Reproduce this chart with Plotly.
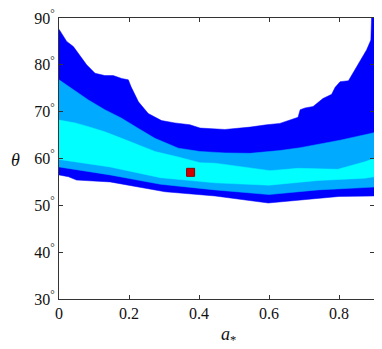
import plotly.graph_objects as go

# ---- data ----
x_dark_top = [0, 0.022, 0.041, 0.07, 0.079, 0.103, 0.131, 0.155, 0.179, 0.198, 0.206, 0.227,
              0.255, 0.293, 0.331, 0.374, 0.403, 0.474, 0.546, 0.593, 0.631, 0.683, 0.689,
              0.703, 0.726, 0.754, 0.779, 0.789, 0.803, 0.827, 0.85, 0.879, 0.891, 0.893, 0.9]
theta_dark_top = [87.6, 85.0, 83.9, 81.0, 80.0, 78.2, 77.7, 77.7, 77.1, 76.8, 75.3, 72.1,
                  69.6, 68.1, 67.6, 67.2, 66.5, 66.2, 66.7, 67.2, 67.5, 68.8, 70.4,
                  70.8, 71.1, 72.8, 73.7, 75.2, 76.4, 76.6, 79.6, 83.2, 85.3, 90.0, 90.0]
x_dark_bot = [0, 0.027, 0.05, 0.146, 0.303, 0.446, 0.598, 0.74, 0.8, 0.9]
theta_dark_bot = [56.5, 56.1, 55.4, 55.0, 52.9, 52.0, 50.5, 51.5, 51.9, 52.0]

x_mid_top = [0, 0.036, 0.084, 0.131, 0.179, 0.227, 0.274, 0.341, 0.403, 0.474, 0.546,
             0.631, 0.689, 0.803, 0.9]
theta_mid_top = [76.8, 75.0, 72.5, 70.4, 68.6, 66.4, 64.3, 62.2, 61.5, 61.2, 61.1,
                 61.7, 62.3, 63.9, 65.5]
x_mid_bot = [0, 0.146, 0.29, 0.446, 0.6, 0.74, 0.9]
theta_mid_bot = [58.2, 56.5, 54.5, 53.3, 52.3, 53.3, 53.9]

x_cyan_top = [0, 0.046, 0.084, 0.131, 0.179, 0.227, 0.274, 0.341, 0.403, 0.446, 0.546,
              0.603, 0.683, 0.797, 0.874, 0.9]
theta_cyan_top = [68.2, 67.6, 66.8, 65.7, 64.3, 62.9, 61.5, 60.3, 59.1, 59.0, 57.9,
                  57.4, 57.9, 57.7, 59.3, 60.0]
x_cyan_bot = [0, 0.146, 0.29, 0.446, 0.6, 0.74, 0.874, 0.9]
theta_cyan_bot = [59.8, 58.2, 55.9, 54.8, 54.3, 55.3, 55.8, 56.1]

best_a = [0.376]
best_theta = [57.05]

x_ticks = [0, 0.2, 0.4, 0.6, 0.8]
x_ticklabels = ["0", "0.2", "0.4", "0.6", "0.8"]
y_ticks = [30, 40, 50, 60, 70, 80, 90]
y_ticklabels = [f"{v}<sup>°</sup>" for v in y_ticks]

band_colors = ["#0000ff", "#00aaff", "#00ffff"]

fig = go.Figure()

bands = [
    (x_dark_top, theta_dark_top, x_dark_bot, theta_dark_bot),
    (x_mid_top, theta_mid_top, x_mid_bot, theta_mid_bot),
    (x_cyan_top, theta_cyan_top, x_cyan_bot, theta_cyan_bot),
]
for (xt, yt, xb, yb), col in zip(bands, band_colors):
    xs = list(xt) + list(reversed(xb))
    ys = list(yt) + list(reversed(yb))
    fig.add_trace(go.Scatter(x=xs, y=ys, mode="lines", fill="toself",
                             fillcolor=col, line=dict(color=col, width=0.5),
                             hoverinfo="skip", showlegend=False))

fig.add_trace(go.Scatter(x=best_a, y=best_theta, mode="markers",
                         marker=dict(symbol="square", size=8, color="#d40000",
                                     line=dict(color="#8b0000", width=1)),
                         hoverinfo="skip", showlegend=False))

axis_common = dict(showgrid=False, zeroline=False, showline=True, linecolor="#333333",
                   linewidth=1, mirror="ticks", ticks="inside", ticklen=4,
                   tickcolor="#333333", automargin=False, ticklabeloverflow="allow",
                   tickfont=dict(family="Liberation Serif", size=16, color="#111111"))

# page body has an 8px margin, so the figure is 8px smaller than the window
W, H = 374, 341
ML, MR, MT, MB = 51, 8, 10, 50
pw = W - ML - MR
ph = H - MT - MB

fig.update_layout(
    template="none",
    width=W, height=H,
    margin=dict(l=ML, r=MR, t=MT, b=MB),
    paper_bgcolor="white", plot_bgcolor="white",
    xaxis=dict(range=[0, 0.9], tickvals=x_ticks, ticktext=x_ticklabels, **axis_common),
    yaxis=dict(range=[30, 90], tickvals=y_ticks, ticktext=y_ticklabels, **axis_common),
    annotations=[
        dict(text="<i>θ</i>", x=(7 - ML) / pw, y=(H - MB - 152) / ph,
             xref="paper", yref="paper", showarrow=False,
             xanchor="center", yanchor="middle",
             font=dict(family="Liberation Serif", size=18, color="#111111")),
        dict(text="<i>a</i><sub>*</sub>", x=(220 - ML) / pw, y=(H - MB - 327) / ph,
             xref="paper", yref="paper", showarrow=False,
             xanchor="center", yanchor="middle",
             font=dict(family="Liberation Serif", size=18, color="#111111")),
    ],
)

fig.write_html("out.html")
